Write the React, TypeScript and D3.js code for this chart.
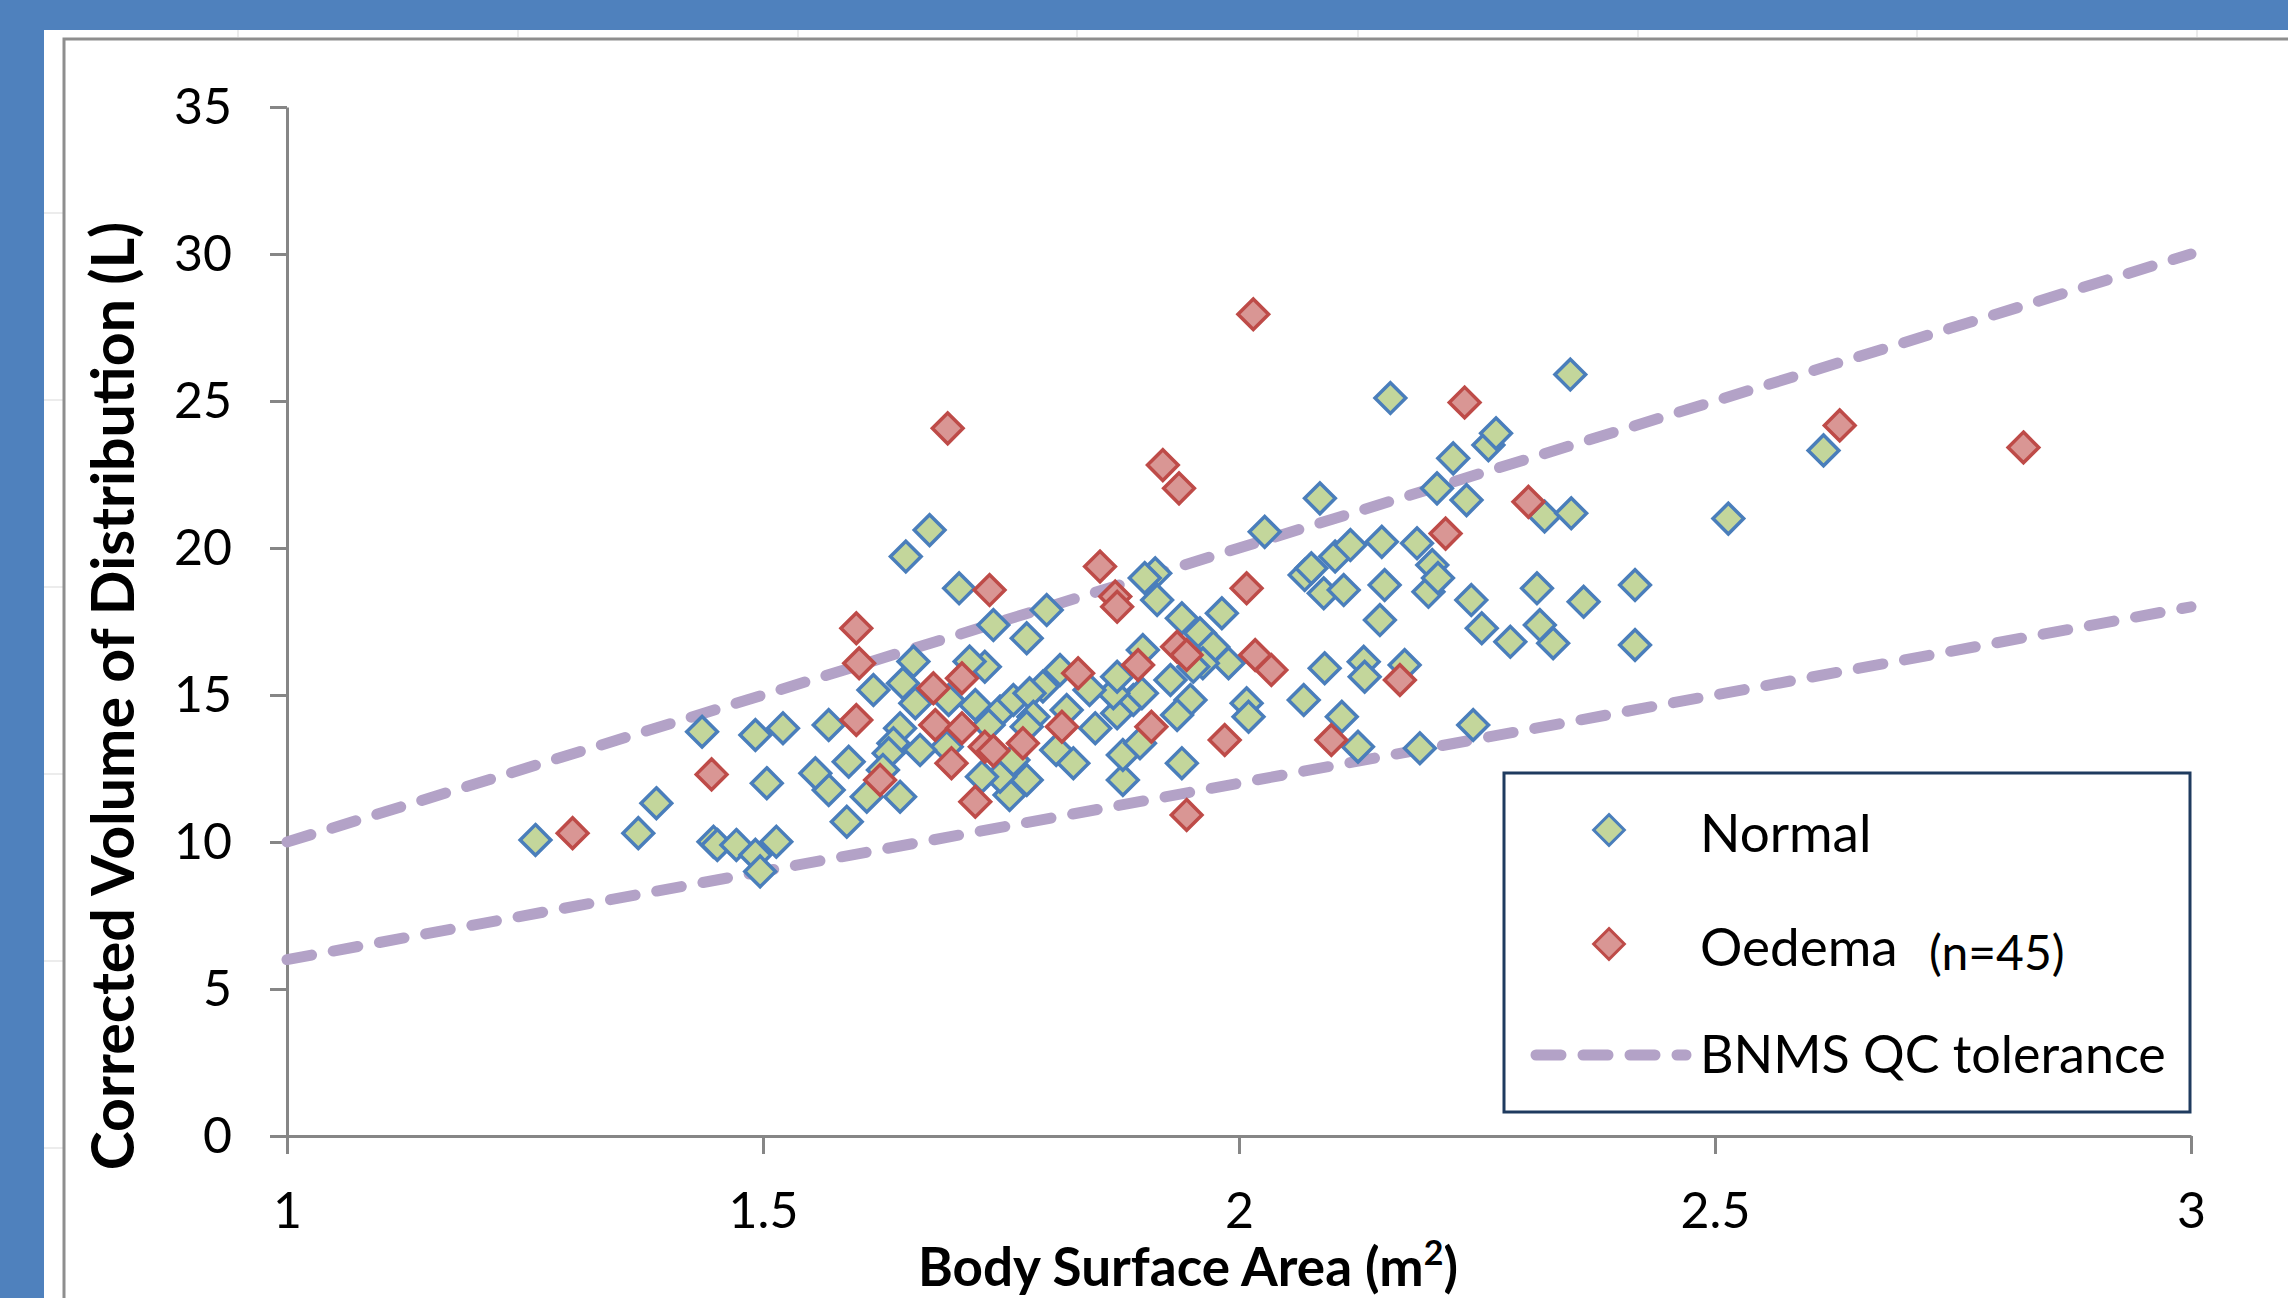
import * as d3 from "d3";
import { useEffect, useRef } from "react";

// Body surface area (m2) vs corrected volume of distribution (L)
const normalBSA = [
  1.261, 1.369, 1.388, 1.436, 1.448, 1.452, 1.472, 1.492, 1.492, 1.497, 1.504, 1.514, 1.521,
  1.675, 1.65, 1.706, 1.742, 1.777, 1.798, 2.027, 1.912, 1.901, 1.914, 1.94, 1.982, 1.959,
  1.973, 1.989, 1.962, 1.899, 1.928, 1.949, 1.935, 2.008, 2.01, 1.94, 1.878, 1.878, 1.896,
  1.849, 1.872, 1.889, 1.898, 1.868, 1.843, 1.872, 1.812, 1.794, 1.819, 1.808, 1.826, 1.777,
  1.759, 1.749, 1.763, 1.749, 1.763, 1.78, 1.784, 1.777, 1.737, 1.723, 1.73, 1.733, 1.717,
  1.695, 1.693, 1.66, 1.658, 1.647, 1.616, 1.644, 1.637, 1.632, 1.665, 1.626, 1.644, 1.609,
  1.59, 1.569, 1.555, 1.569, 1.588, 1.952,
  2.068, 2.069, 2.076, 2.089, 2.085, 2.09, 2.101, 2.11, 2.108, 2.117, 2.125, 2.131, 2.132,
  2.148, 2.15, 2.153, 2.159, 2.174, 2.187, 2.19, 2.199, 2.203, 2.209, 2.208, 2.225, 2.239,
  2.244, 2.246, 2.255, 2.262, 2.27, 2.285, 2.313, 2.316, 2.321, 2.33, 2.348, 2.349, 2.362,
  2.416, 2.416, 2.514, 2.614,
];
const normalVd = [
  10.07, 10.3, 11.32, 13.75, 10.01, 9.9, 9.9, 13.64, 9.56, 9.0, 12.0, 10.01, 13.87,
  20.61, 19.71, 18.63, 17.38, 16.93, 17.89, 20.55, 19.14, 18.98, 18.23, 17.61, 17.78, 17.1,
  16.63, 16.08, 16.08, 16.53, 15.51, 14.83, 14.32, 14.72, 14.26, 12.68, 12.11, 12.96, 13.36,
  13.87, 14.38, 14.83, 15.06, 15.06, 15.17, 15.62, 15.85, 15.29, 14.49, 13.13, 12.68, 12.11,
  11.6, 12.22, 12.79, 14.44, 14.83, 15.06, 14.26, 13.92, 13.98, 14.66, 12.22, 15.96, 16.14,
  14.83, 13.24, 14.72, 16.14, 15.4, 15.17, 13.87, 13.36, 13.02, 13.13, 12.45, 11.54, 11.54,
  12.73, 11.77, 12.34, 13.98, 10.69, 15.96,
  14.83, 19.08, 19.31, 18.46, 21.69, 15.91, 19.71, 18.57, 14.26, 20.1, 13.24, 16.13, 15.62,
  17.55, 20.21, 18.74, 25.1, 16.02, 20.16, 13.19, 18.51, 19.42, 18.98, 22.03, 23.05, 21.63,
  18.23, 13.98, 17.27, 23.5, 23.9, 16.81, 18.63, 17.38, 21.07, 16.76, 25.9, 21.18, 18.17,
  18.74, 16.7, 21.0, 23.32,
];

const oedemaBSA = [
  1.3, 1.446, 1.598, 1.601, 1.598, 1.623, 1.679, 1.709, 1.681, 1.709, 1.698, 1.694, 1.723,
  1.738, 1.733, 1.742, 1.773, 1.814, 1.831, 1.854, 1.87, 1.872, 1.894, 1.908, 1.92, 1.937,
  1.935, 1.945, 1.945, 1.985, 2.008, 2.015, 2.017, 2.034, 2.097, 2.169, 2.217, 2.237, 2.304,
  2.631, 2.824,
];
const oedemaVd = [
  10.3, 12.3, 17.27, 16.08, 14.15, 12.11, 15.23, 15.57, 13.98, 13.87, 12.68, 24.07, 11.37,
  18.57, 13.24, 13.1, 13.36, 13.92, 15.74, 19.37, 18.35, 18.0, 16.02, 13.92, 22.82, 22.03,
  16.64, 16.36, 10.92, 13.47, 18.63, 27.95, 16.36, 15.85, 13.47, 15.51, 20.49, 24.95, 21.57,
  24.17, 23.42,
];

// BNMS QC tolerance lines
const tolBSA = [1, 3];
const tolUpper = [10, 30];
const tolLower = [6, 18];

const xTicks = [1, 1.5, 2, 2.5, 3];
const yTicks = [0, 5, 10, 15, 20, 25, 30, 35];
const legendLabels = ["Normal", "Oedema", "BNMS QC tolerance"];

export default function App() {
  const ref = useRef<SVGSVGElement>(null);

  useEffect(() => {
    const svg = d3.select(ref.current);
    svg.selectAll("*").remove();

    const width = 2288;
    const height = 1298;
    const margin = { top: 107, right: 97, bottom: 162, left: 287 };
    const font = "Lato, 'Open Sans', sans-serif";
    const axisColor = "#868686";
    const tolColor = "#B3A2C7";

    // spreadsheet background
    svg.append("rect").attr("width", width).attr("height", height).attr("fill", "#4F81BD");
    svg.append("rect").attr("x", 44).attr("y", 30).attr("width", width - 44).attr("height", height - 30).attr("fill", "#fff");
    [238, 518, 798, 1077, 1358, 1638, 1917, 2197].forEach(gx => {
      svg.append("line").attr("x1", gx).attr("x2", gx).attr("y1", 30).attr("y2", 37)
        .attr("stroke", "#d9d9d9").attr("stroke-width", 1);
    });
    [213, 400, 587, 774, 961, 1148].forEach(gy => {
      svg.append("line").attr("x1", 44).attr("x2", 63).attr("y1", gy).attr("y2", gy)
        .attr("stroke", "#d9d9d9").attr("stroke-width", 1);
    });
    svg.append("path").attr("d", `M64,${height} L64,39 L${width},39`)
      .attr("fill", "none").attr("stroke", "#8E8E8E").attr("stroke-width", 3);

    const x = d3.scaleLinear().domain([1, 3]).range([margin.left, width - margin.right]);
    const y = d3.scaleLinear().domain([0, 35]).range([height - margin.bottom, margin.top]);

    // Axes
    const gx = svg.append("g")
      .attr("transform", `translate(0,${height - margin.bottom})`)
      .call(d3.axisBottom(x).tickValues(xTicks).tickSize(18).tickSizeOuter(0).tickPadding(38).tickFormat(d3.format("")));
    const gy = svg.append("g")
      .attr("transform", `translate(${margin.left},0)`)
      .call(d3.axisLeft(y).tickValues(yTicks).tickSize(17).tickSizeOuter(0).tickPadding(38));
    [gx, gy].forEach(g => {
      g.select(".domain").attr("stroke", axisColor).attr("stroke-width", 3);
      g.selectAll(".tick line").attr("stroke", axisColor).attr("stroke-width", 3);
      g.selectAll(".tick text").attr("fill", "#000").style("font-family", font).style("font-size", "50px");
    });

    // Tolerance lines
    const line = d3.line<[number, number]>().x(d => x(d[0])).y(d => y(d[1]));
    [tolUpper, tolLower].forEach(vals => {
      svg.append("path")
        .datum(tolBSA.map((b, i) => [b, vals[i]] as [number, number]))
        .attr("d", line)
        .attr("fill", "none")
        .attr("stroke", tolColor)
        .attr("stroke-width", 11)
        .attr("stroke-linecap", "round")
        .attr("stroke-dasharray", "25 22");
    });

    const diamond = d3.symbol().type(d3.symbolDiamond2).size(600);

    const series = [
      { bsa: normalBSA, vd: normalVd, fill: "#C3D69B", stroke: "#4A7EBB" },
      { bsa: oedemaBSA, vd: oedemaVd, fill: "#D99694", stroke: "#BE4B48" },
    ];
    series.forEach(s => {
      svg.append("g")
        .selectAll("path")
        .data(s.bsa.map((b, i) => [b, s.vd[i]]))
        .join("path")
        .attr("d", diamond)
        .attr("transform", d => `translate(${x(d[0])},${y(d[1])})`)
        .attr("fill", s.fill)
        .attr("stroke", s.stroke)
        .attr("stroke-width", 3.5);
    });

    // Axis titles
    svg.append("text")
      .attr("transform", `translate(134,696) rotate(-90)`)
      .attr("text-anchor", "middle")
      .style("font-family", font).style("font-weight", 700).style("font-size", "59px")
      .text("Corrected Volume of Distribution (L)");

    const xt = svg.append("text")
      .attr("x", 1188).attr("y", 1286)
      .attr("text-anchor", "middle")
      .style("font-family", font).style("font-weight", 700).style("font-size", "53px");
    xt.append("tspan").text("Body Surface Area (m");
    xt.append("tspan").attr("dy", -21).style("font-size", "34px").text("2");
    xt.append("tspan").attr("dy", 21).text(")");

    // Legend
    const lg = svg.append("g");
    lg.append("rect").attr("x", 1504).attr("y", 773).attr("width", 686).attr("height", 339)
      .attr("fill", "#fff").attr("stroke", "#1F3B5F").attr("stroke-width", 3);
    series.forEach((s, i) => {
      const cy = 830 + i * 114;
      lg.append("path").attr("d", diamond).attr("transform", `translate(1609,${cy})`)
        .attr("fill", s.fill).attr("stroke", s.stroke).attr("stroke-width", 3);
      lg.append("text").attr("x", 1700).attr("y", cy + 22)
        .style("font-family", font).style("font-size", "53px").text(legendLabels[i]);
    });
    lg.append("text").attr("x", 1929).attr("y", 970)
      .style("font-family", font).style("font-size", "48px").text("(n=45)");
    lg.append("line").attr("x1", 1536).attr("x2", 1686).attr("y1", 1055).attr("y2", 1055)
      .attr("stroke", tolColor).attr("stroke-width", 11).attr("stroke-linecap", "round")
      .attr("stroke-dasharray", "25 22");
    lg.append("text").attr("x", 1700).attr("y", 1073)
      .style("font-family", font).style("font-size", "52px").text(legendLabels[2]);
  }, []);

  return (
    <svg ref={ref} width={2288} height={1298}
      style={{ position: "absolute", left: 0, top: 0, display: "block" }}></svg>
  );
}
